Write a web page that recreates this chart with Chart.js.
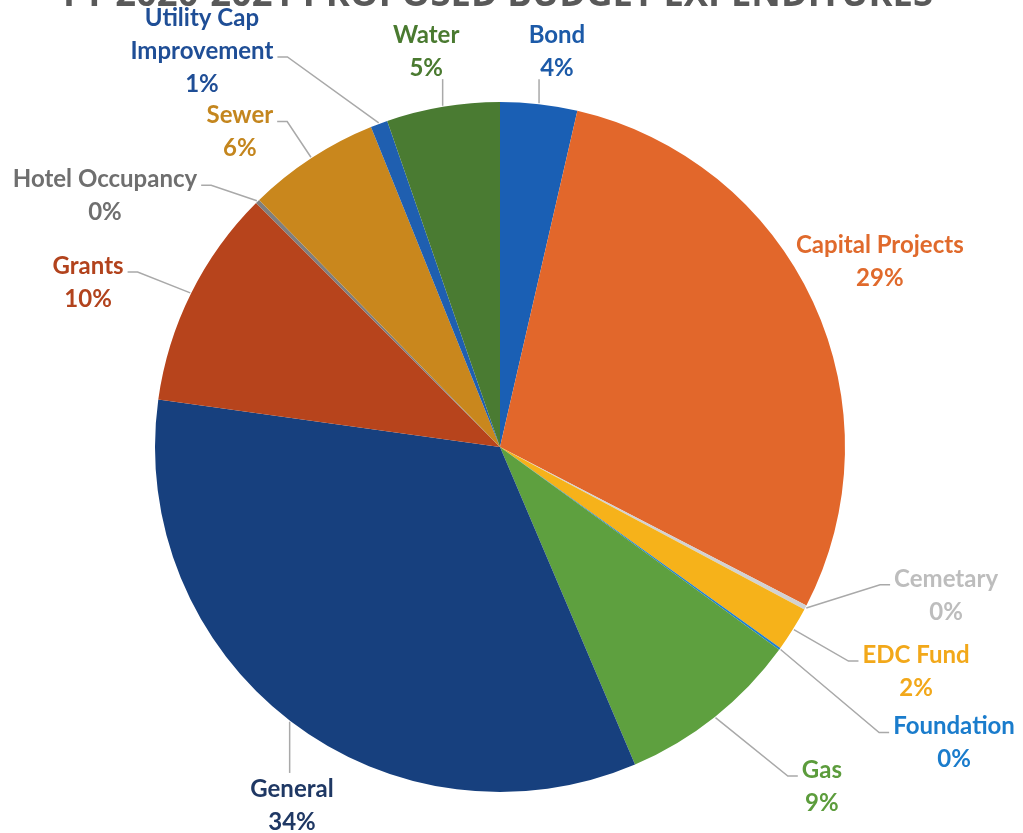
<!DOCTYPE html>
<html lang="en">
<head>
<meta charset="UTF-8">
<title>FY 2020-2021 Proposed Budget Expenditures</title>
<script src="https://cdn.jsdelivr.net/npm/chart.js"></script>
<style>
    html, body { margin: 0; padding: 0; background: #fff; }
    .chart-box { position: relative; width: 1023px; height: 833px; overflow: hidden; }
</style>
</head>
<body>
<div class="chart-box"><canvas id="pieChart" width="1023" height="833"></canvas></div>
<script>
// data (percent of total expenditures)
const funds = ['Bond', 'Capital Projects', 'Cemetary', 'EDC Fund', 'Foundation', 'Gas',
    'General', 'Grants', 'Hotel Occupancy', 'Sewer', 'Utility Cap Improvement', 'Water'];
const shares = [3.6, 29.0, 0.2, 2.1, 0.1, 8.6, 33.6, 10.3, 0.2, 6.2, 0.8, 5.3];
const labelLines = [['Bond'], ['Capital Projects'], ['Cemetary'], ['EDC Fund'], ['Foundation'], ['Gas'],
    ['General'], ['Grants'], ['Hotel Occupancy'], ['Sewer'], ['Utility Cap', 'Improvement'], ['Water']];
const titleText = 'FY 2020-2021 PROPOSED BUDGET EXPENDITURES';

// styles
const sliceColors = ['#1a5fb4', '#e2672b', '#d2d2d2', '#f6b21a', '#1f80d0', '#5ea03f',
    '#17407e', '#b7441c', '#7f7f7f', '#c9871d', '#1f5fb0', '#4a7b32'];
const labelColors = ['#1c5aa8', '#e06a2c', '#bdbdbd', '#f2a81a', '#1a7ccc', '#5c9c3c',
    '#1f3864', '#b2431d', '#6f6f6f', '#c4861e', '#1f4e96', '#4a7a30'];
// label block centre relative to pie centre, in radii; last item = leader kind
const labelPos = [
    [0.165, -1.146, 'v'], [1.101, -0.536, null], [1.293, 0.430, 'd'], [1.206, 0.651, 'd'],
    [1.316, 0.858, 'd'], [0.933, 0.984, 'd'], [-0.603, 1.039, 'v'], [-1.194, -0.477, 'd'],
    [-1.145, -0.728, 'd'], [-0.754, -0.913, 'd'], [-0.864, -1.148, 'd'], [-0.214, -1.146, 'v']
];
const LINE_H = 33;
const LABEL_FONT = 'bold 24px Lato';

const titlePlugin = {
    id: 'cutTitle',
    afterDraw(chart) {
        const ctx = chart.ctx;
        ctx.save();
        ctx.font = 'bold 40px "Open Sans"';
        const size = 40 * 870 / ctx.measureText(titleText).width;
        ctx.font = 'bold ' + size.toFixed(1) + 'px "Open Sans"';
        ctx.fillStyle = '#595959';
        ctx.textAlign = 'center';
        ctx.textBaseline = 'alphabetic';
        ctx.fillText(titleText, 498, 6);
        ctx.restore();
    }
};

const calloutPlugin = {
    id: 'callouts',
    afterDatasetsDraw(chart) {
        const ctx = chart.ctx;
        const meta = chart.getDatasetMeta(0);
        const total = shares.reduce((a, b) => a + b, 0);
        ctx.save();
        ctx.font = LABEL_FONT;
        ctx.textAlign = 'center';
        ctx.textBaseline = 'middle';
        meta.data.forEach((arc, i) => {
            const p = arc.getProps(['x', 'y', 'startAngle', 'endAngle', 'outerRadius'], true);
            const mid = (p.startAngle + p.endAngle) / 2;
            const ax = p.x + Math.cos(mid) * (p.outerRadius + 1);
            const ay = p.y + Math.sin(mid) * (p.outerRadius + 1);
            const pos = labelPos[i];
            const cx = p.x + pos[0] * p.outerRadius;
            const cy = p.y + pos[1] * p.outerRadius;
            const lines = labelLines[i].concat(Math.round(shares[i] / total * 100) + '%');
            const top = cy - (lines.length - 1) * LINE_H / 2;

            if (pos[2]) {
                ctx.strokeStyle = '#a9a9a9';
                ctx.lineWidth = 1.5;
                ctx.beginPath();
                ctx.moveTo(ax, ay);
                if (pos[2] === 'v') {
                    const endY = cy < ay ? top + (lines.length - 1) * LINE_H + 11 : top - 16;
                    ctx.lineTo(ax, endY);
                } else {
                    const li = Math.max(0, lines.length - 2);
                    const w = ctx.measureText(lines[li]).width;
                    const ly = top + li * LINE_H + 6;
                    const side = cx < ax ? 1 : -1;
                    const ex = cx + side * (w / 2 + 4);
                    ctx.lineTo(ex + side * 10, ly);
                    ctx.lineTo(ex, ly);
                }
                ctx.stroke();
            }
            ctx.fillStyle = labelColors[i];
            lines.forEach((t, k) => ctx.fillText(t, cx, top + k * LINE_H));
        });
        ctx.restore();
    }
};

new Chart(document.getElementById('pieChart'), {
    type: 'pie',
    data: {
        labels: funds,
        datasets: [{
            data: shares,
            backgroundColor: sliceColors,
            borderWidth: 0
        }]
    },
    options: {
        responsive: false,
        animation: false,
        layout: { padding: { left: 155, right: 178, top: 102, bottom: 41 } },
        plugins: {
            legend: { display: false },
            tooltip: { enabled: false }
        }
    },
    plugins: [calloutPlugin, titlePlugin]
});
</script>
</body>
</html>
